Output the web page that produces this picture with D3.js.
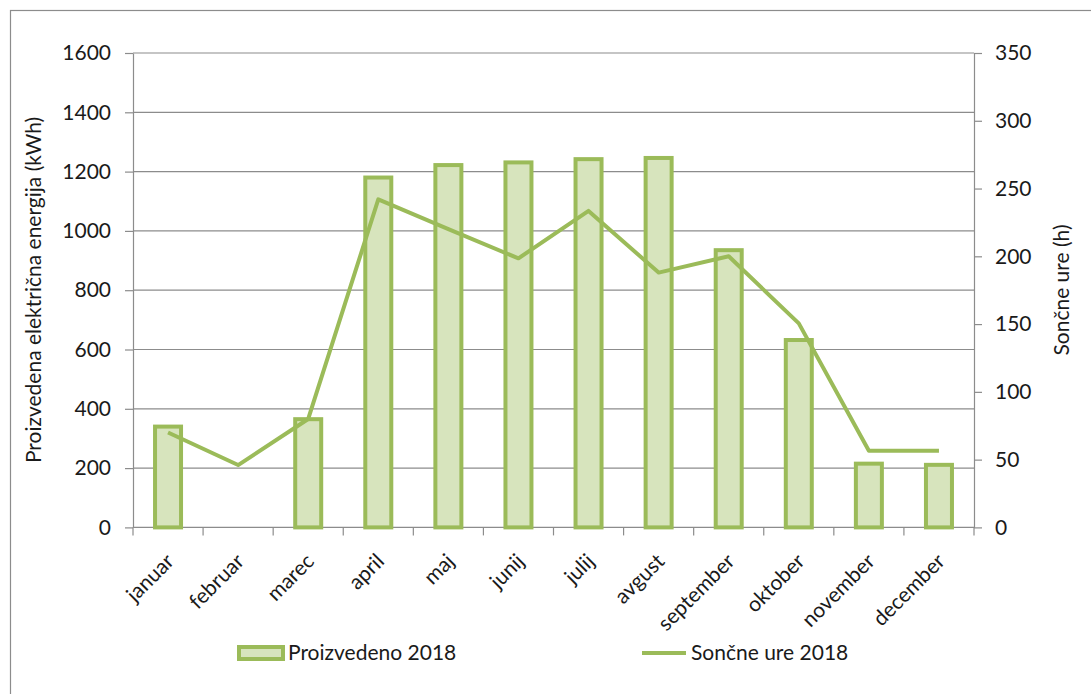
<!DOCTYPE html>
<html><head><meta charset="utf-8">
<script src="https://cdn.jsdelivr.net/npm/d3@7"></script>
<style>
html,body{margin:0;padding:0;background:#fff;}
text{font-family:Lato,"Open Sans",sans-serif;fill:#1a1a1a;}
</style></head>
<body>
<svg id="chart" width="1091" height="694"></svg>
<script>
const months = ["januar","februar","marec","april","maj","junij","julij","avgust","september","oktober","november","december"];
const produced = [340, 0, 365, 1180, 1222, 1231, 1242, 1246, 935, 632, 215, 211];
const sunHours = [70, 46, 80, 242, 220, 198.5, 233.5, 188, 200, 150.5, 56.6, 56.6];
const leftTicks = [0,200,400,600,800,1000,1200,1400,1600];
const rightTicks = [0,50,100,150,200,250,300,350];
const seriesNames = ["Proizvedeno 2018","Sončne ure 2018"];
const leftTitle = "Proizvedena električna energija (kWh)";
const rightTitle = "Sončne ure (h)";

const svg = d3.select("#chart");
const green = "#9bbb59", fillG = "#d7e4bd", gridC = "#8c8c8c";
const L = 133, R = 974, T = 53, B = 527.4;
const fs = 21;

// outer border (left & top visible)
svg.append("rect").attr("x",10.5).attr("y",10.5).attr("width",1200).attr("height",1200)
  .attr("fill","none").attr("stroke","#8c8c8c").attr("stroke-width",1.2);

const x = d3.scaleBand().domain(months).range([L,R]).paddingInner(0).paddingOuter(0);
const yL = d3.scaleLinear().domain([0,1600]).range([B,T]);
const yR = d3.scaleLinear().domain([0,350]).range([B,T]);

// gridlines
svg.append("g").selectAll("line").data(leftTicks.filter(d=>d>0)).join("line")
  .attr("x1",L).attr("x2",R).attr("y1",d=>yL(d)).attr("y2",d=>yL(d))
  .attr("stroke",gridC).attr("stroke-width",1.2);

// left axis
const gl = svg.append("g").attr("transform",`translate(${L},0)`)
  .call(d3.axisLeft(yL).tickValues(leftTicks).tickFormat(d3.format("d")).tickSize(8).tickPadding(14).tickSizeOuter(0));
gl.select(".domain").attr("stroke",gridC).attr("stroke-width",1.2);
gl.selectAll(".tick line").attr("stroke",gridC).attr("stroke-width",1.2);
gl.selectAll("text").style("font-size",fs+"px").style("font-family","Lato").attr("fill","#1a1a1a");

// right axis
const gr = svg.append("g").attr("transform",`translate(${R},0)`)
  .call(d3.axisRight(yR).tickValues(rightTicks).tickFormat(d3.format("d")).tickSize(8).tickPadding(13).tickSizeOuter(0));
gr.select(".domain").attr("stroke",gridC).attr("stroke-width",1.2);
gr.selectAll(".tick line").attr("stroke",gridC).attr("stroke-width",1.2);
gr.selectAll("text").style("font-size",fs+"px").style("font-family","Lato").attr("fill","#1a1a1a");

// bottom axis (ticks at category boundaries)
const gb = svg.append("g").attr("transform",`translate(0,${B})`);
gb.append("line").attr("x1",L).attr("x2",R).attr("stroke",gridC).attr("stroke-width",1.2);
const bounds = months.map(m=>x(m)).concat([R]);
gb.selectAll("line.tk").data(bounds).join("line").attr("class","tk")
  .attr("x1",d=>d).attr("x2",d=>d).attr("y1",0).attr("y2",8).attr("stroke",gridC).attr("stroke-width",1.2);
gb.selectAll("text").data(months).join("text")
  .attr("transform",d=>`translate(${x(d)+x.bandwidth()/2+2},${30}) rotate(-45)`)
  .attr("text-anchor","end").attr("dy","0.35em")
  .style("font-size",fs+"px").text(d=>d);

// bars
const bw = 26;
svg.append("g").selectAll("rect").data(months.map((m,i)=>({m,v:produced[i]})).filter(d=>d.v>0)).join("rect")
  .attr("x",d=>x(d.m)+x.bandwidth()/2-bw/2).attr("width",bw)
  .attr("y",d=>yL(d.v)).attr("height",d=>B-yL(d.v))
  .attr("fill",fillG).attr("stroke",green).attr("stroke-width",4);

// line
const line = d3.line().x((d,i)=>x(months[i])+x.bandwidth()/2).y(d=>yR(d));
svg.append("path").datum(sunHours).attr("d",line).attr("fill","none")
  .attr("stroke",green).attr("stroke-width",4).attr("stroke-linejoin","round");

// axis titles
svg.append("text").attr("transform",`translate(41,290) rotate(-90)`)
  .attr("text-anchor","middle").style("font-size",fs+"px").text(leftTitle);
svg.append("text").attr("transform",`translate(1069,290) rotate(-90)`)
  .attr("text-anchor","middle").style("font-size",fs+"px").text(rightTitle);

// legend
const ly = 653;
svg.append("rect").attr("x",239).attr("y",ly-6).attr("width",44).attr("height",12)
  .attr("fill",fillG).attr("stroke",green).attr("stroke-width",4);
svg.append("text").attr("x",288).attr("y",ly).attr("dy","0.35em").style("font-size",fs+"px").text(seriesNames[0]);
svg.append("line").attr("x1",642).attr("x2",686).attr("y1",ly).attr("y2",ly)
  .attr("stroke",green).attr("stroke-width",4);
svg.append("text").attr("x",691).attr("y",ly).attr("dy","0.35em").style("font-size",fs+"px").text(seriesNames[1]);
</script>
</body></html>
